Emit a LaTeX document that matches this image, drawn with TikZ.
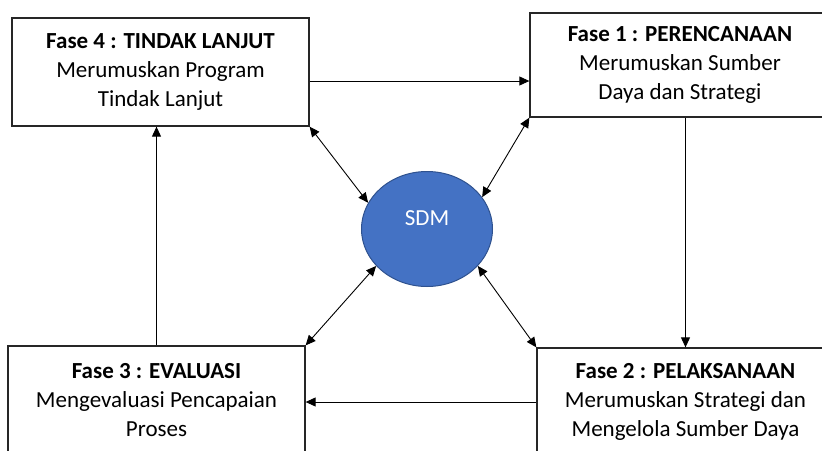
\documentclass[tikz,border=0pt]{standalone}
\usepackage{fontspec}
\setmainfont{Carlito}
\usetikzlibrary{shapes, arrows.meta, positioning, calc}

\definecolor{sdmblue}{HTML}{4472C4}
\definecolor{sdmedge}{HTML}{2F528F}

\begin{document}
\begin{tikzpicture}[x=1pt, y=-1pt,
	fase/.style={draw=black!85, line width=1.3pt, minimum width=297pt, minimum height=108pt,
		inner sep=0pt, align=center, font=\fontsize{23}{29}\selectfont},
	sdm/.style={ellipse, draw=sdmedge, line width=1pt, fill=sdmblue, minimum width=131pt, minimum height=115pt},
	alur/.style={line width=0.9pt, -{Triangle[length=10pt, width=9pt]}},
	dua/.style={line width=0.9pt, {Triangle[length=10pt, width=9pt]}-{Triangle[length=10pt, width=9pt]}}]
		\useasboundingbox (0,0) rectangle (822,450);
		\clip (0,0) rectangle (822,450);
		% kotak fase
		\node[fase] (f4) at (160.5,72) {\textbf{Fase 4 : TINDAK LANJUT}\\Merumuskan Program\\Tindak Lanjut};
		\node[fase, minimum width=300pt, minimum height=104pt] (f1) at (680,65) {\textbf{Fase 1 : PERENCANAAN}\\Merumuskan Sumber\\Daya dan Strategi};
		\node[fase] (f2) at (685.5,402) {\textbf{Fase 2 : PELAKSANAAN}\\Merumuskan Strategi dan\\Mengelola Sumber Daya};
		\node[fase] (f3) at (156.5,400) {\textbf{Fase 3 : EVALUASI}\\Mengevaluasi Pencapaian\\Proses};
		% lingkaran tengah
		\node[sdm] (sdm) at (427,229) {};
		\node[text=white, font=\fontsize{23}{29}\selectfont] (sdmlabel) at ([yshift=11pt]sdm.center) {SDM};
		% siklus
		\draw[alur] ([yshift=-9pt]f4.east) -- ([yshift=-9pt]f4.east -| f1.west);
		\draw[alur] (f1.south -| f2.north) -- (f2.north);
		\draw[alur] (f2.west) -- (f2.west -| f3.east);
		\draw[alur] (f3.north) -- (f3.north |- f4.south);
		% hubungan ke SDM
		\draw[dua] (f4.south east) -- (sdm.156);
		\draw[dua] (f1.south west) -- (sdm.30);
		\draw[dua] (f3.north east) -- (sdm.216);
		\draw[dua] (f2.north west) -- (sdm.324);
	\end{tikzpicture}
\end{document}
